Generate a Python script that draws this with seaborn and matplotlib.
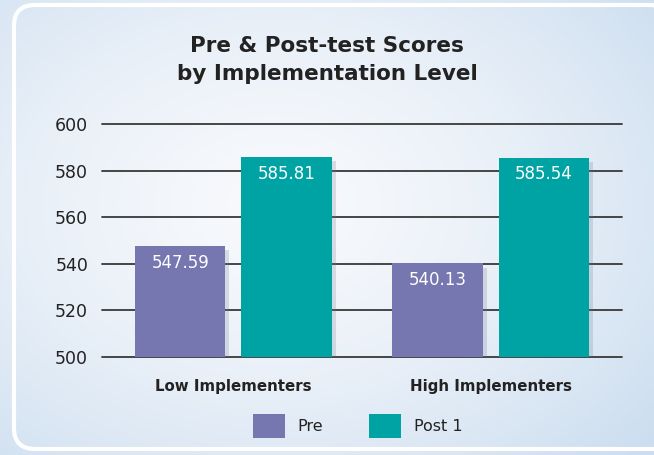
import numpy as np
import pandas as pd
import matplotlib
matplotlib.use("Agg")
import matplotlib.pyplot as plt
import matplotlib.patheffects as pe
from matplotlib.patches import FancyBboxPatch, Patch
import seaborn as sns

# Data
groups = ["Low Implementers", "High Implementers"]
tests = ["Pre", "Post 1"]
pre_scores = [547.59, 540.13]
post_scores = [585.81, 585.54]
colors = ["#7676b0", "#00a3a4"]

df = pd.DataFrame({
    "group": groups * 2,
    "test": [tests[0]] * 2 + [tests[1]] * 2,
    "score": pre_scores + post_scores,
})

sns.set_style("white")
plt.rcParams["font.family"] = ["DejaVu Sans"]

fig = plt.figure(figsize=(6.54, 4.55), dpi=100)

# sky-ish background
bg = fig.add_axes([0, 0, 1, 1], zorder=-10)
xx, yy = np.meshgrid(np.linspace(0, 1, 300), np.linspace(0, 1, 200))
r = np.sqrt(((xx - 0.42) / 0.75) ** 2 + ((yy - 0.45) / 0.8) ** 2)
r = np.clip(r, 0, 1)
c0 = np.array([0.97, 0.976, 0.988])
c1 = np.array([0.80, 0.87, 0.94])
img = c0[None, None, :] * (1 - r[..., None] ** 1.5) + c1[None, None, :] * r[..., None] ** 1.5
bg.imshow(img, extent=[0, 1, 0, 1], aspect="auto", origin="upper")
bg.set_xlim(0, 1)
bg.set_ylim(0, 1)
bg.axis("off")
panel = FancyBboxPatch((14 / 654, 6 / 455), 660 / 654, 444 / 455,
                       boxstyle="round,pad=0,rounding_size=0.032",
                       transform=bg.transAxes, facecolor="none",
                       edgecolor="white", linewidth=3, mutation_aspect=654 / 455)
bg.add_patch(panel)

ax = fig.add_axes([102 / 654, 98 / 455, 520 / 654, 233 / 455])
ax.patch.set_alpha(0)

sns.barplot(data=df, x="group", y="score", hue="test", palette=colors,
            width=0.825, gap=0.15, saturation=1, ax=ax, legend=False, zorder=3)

shadow = [pe.SimplePatchShadow(offset=(3, -3), shadow_rgbFace="#6a7a8a", alpha=0.22),
          pe.Normal()]
for cont in ax.containers:
    for bar in cont:
        bar.set_path_effects(shadow)
        bar.set_linewidth(0)
        val = bar.get_y() + bar.get_height()
        ax.annotate(f"{val:.2f}", (bar.get_x() + bar.get_width() / 2, val),
                    xytext=(0, -12), textcoords="offset points",
                    ha="center", va="center", color="white", fontsize=12, zorder=5)

ax.set_ylim(500, 600)
ax.set_xlim(-0.51, 1.51)
ax.set_yticks([500, 520, 540, 560, 580, 600])
for y in [500, 520, 540, 560, 580, 600]:
    ax.axhline(y, color="#383838", lw=1.3, zorder=1, clip_on=False)
for s in ax.spines.values():
    s.set_visible(False)
ax.tick_params(axis="y", length=0, pad=10, labelsize=12.5, labelcolor="#222222")
ax.tick_params(axis="x", length=0, pad=16, labelsize=10.8, labelcolor="#222222")
for t in ax.get_xticklabels():
    t.set_fontweight("bold")
ax.set_xlabel("")
ax.set_ylabel("")

fig.text(0.5, 0.868, "Pre & Post-test Scores\nby Implementation Level",
         ha="center", va="center", fontsize=15.5, fontweight="bold",
         color="#222222", linespacing=1.5)

handles = [Patch(facecolor=colors[0], edgecolor="none", label=tests[0]),
           Patch(facecolor=colors[1], edgecolor="none", label=tests[1])]
fig.legend(handles=handles, loc="center", bbox_to_anchor=(0.547, 0.064), ncol=2,
           frameon=False, fontsize=11.5, handlelength=2.0, handleheight=2.0,
           columnspacing=2.9, handletextpad=0.8, labelcolor="#222222")

fig.savefig("out.png", dpi=100)
